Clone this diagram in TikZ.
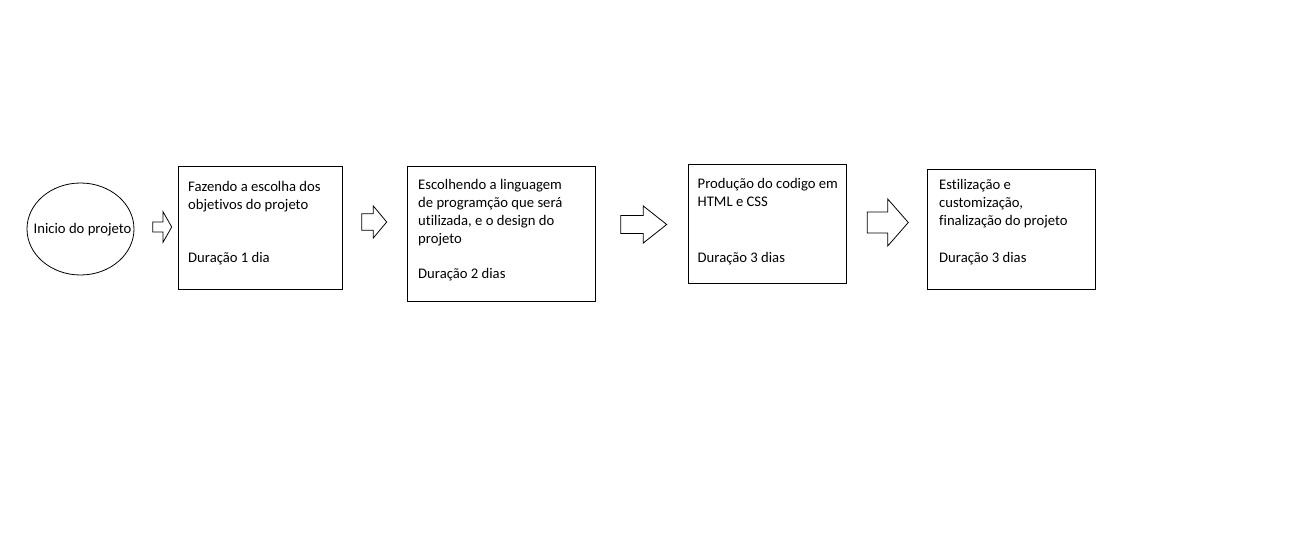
\documentclass[tikz,border=0pt]{standalone}
\usepackage{fontspec}
\setmainfont{Carlito}[Ligatures={NoCommon}]
\usetikzlibrary{shapes.geometric}
\begin{document}
\begin{tikzpicture}[x=1pt,y=-1pt,
  every node/.style={font=\fontsize{14.67pt}{17.9pt}\selectfont},
  stepbox/.style={draw=black,line width=0.8pt,rectangle,inner sep=0pt,anchor=north west},
  boxtext/.style={inner sep=0pt,anchor=base west,align=flush left,text width=200pt},
  blockarr/.style={draw=black,line width=0.8pt,line join=miter}]
\useasboundingbox (0,0) rectangle (1296,548);
% start ellipse
\node[draw=black,line width=0.8pt,ellipse,inner sep=0pt,minimum width=107pt,minimum height=92pt] (start) at (80.5,229) {};
\node[inner sep=0pt,anchor=base] (starttext) at (82.5,233.3) {Inicio do projeto};
% boxes
\node[stepbox,minimum width=164pt,minimum height=123pt] (b1) at (178,166) {};
\node[stepbox,minimum width=188pt,minimum height=135pt] (b2) at (407,166) {};
\node[stepbox,minimum width=158pt,minimum height=119pt] (b3) at (688,164) {};
\node[stepbox,minimum width=168pt,minimum height=120pt] (b4) at (927,169) {};
% texts
\node[boxtext] (t1) at (188,192) {Fazendo a escolha dos\\objetivos do projeto};
\node[boxtext] (d1) at (188,262) {Duração 1 dia};
\node[boxtext] (t2) at (418,189.5) {Escolhendo a linguagem\\de programção que será\\utilizada, e o design do\\projeto};
\node[boxtext] (d2) at (418,279) {Duração 2 dias};
\node[boxtext] (t3) at (697.5,188.5) {Produção do codigo em\\HTML e CSS};
\node[boxtext] (d3) at (697.5,262) {Duração 3 dias};
\node[boxtext] (t4) at (939,190) {Estilização e\\customização,\\finalização do projeto};
\node[boxtext] (d4) at (939,262) {Duração 3 dias};
% block arrows
\newcommand\blockarrow[6]{% x0, xbase, xtip, yc, shaft half, head half
  \draw[blockarr] (#1,#4-#5) -- (#2,#4-#5) -- (#2,#4-#6) -- (#3,#4) -- (#2,#4+#6) -- (#2,#4+#5) -- (#1,#4+#5) -- cycle;}
\blockarrow{152.7}{163}{171.7}{227}{5}{15.3}
\blockarrow{361.7}{373.3}{386.7}{222}{8.3}{16}
\blockarrow{620.7}{643.3}{666.7}{224.5}{9}{18.5}
\blockarrow{867.3}{887.7}{908.3}{222.5}{10.5}{23.5}
\end{tikzpicture}
\end{document}
